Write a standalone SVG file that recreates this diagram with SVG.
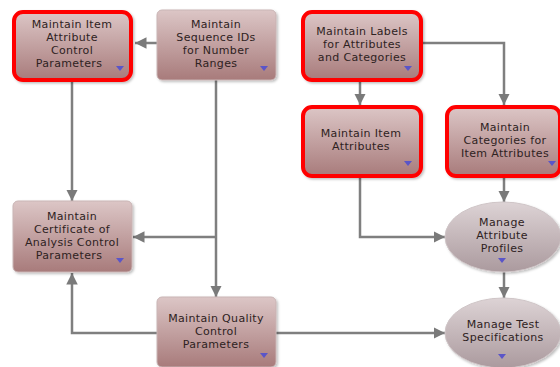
<svg xmlns="http://www.w3.org/2000/svg" width="560" height="367" viewBox="0 0 560 367">
  <defs>
    <linearGradient id="boxFill" x1="0" y1="0" x2="0" y2="1">
      <stop offset="0" stop-color="#dcc6c6"/>
      <stop offset="1" stop-color="#a87b7b"/>
    </linearGradient>
    <linearGradient id="ovalFill" x1="0" y1="0" x2="0" y2="1">
      <stop offset="0" stop-color="#ddd3d5"/>
      <stop offset="1" stop-color="#ab9a9e"/>
    </linearGradient>
    <marker id="arrow" viewBox="0 0 10 10" refX="10" refY="5" markerWidth="4.6" markerHeight="4.8" markerUnits="strokeWidth" orient="auto">
      <path d="M0,0 L10,5 L0,10 Z" fill="#7a7a7a"/>
    </marker>
    <filter id="shadow" x="-10%" y="-10%" width="125%" height="125%">
      <feDropShadow dx="1.5" dy="1.5" stdDeviation="1" flood-color="#000" flood-opacity="0.25"/>
    </filter>
  </defs>
  <style>
    .box { fill: url(#boxFill); stroke: #c9b5b5; stroke-width: 1; filter: url(#shadow); }
    .hl { stroke: #ff0000; stroke-width: 4; }
    .oval { fill: url(#ovalFill); stroke: #cfc5c7; stroke-width: 1; filter: url(#shadow); }
    .lbl { font-family: "DejaVu Sans", Verdana, sans-serif; font-size: 11px; letter-spacing: 0.35px; fill: #2e2222; text-anchor: middle; }
    .tri { fill: #5a55c8; }
    .conn { fill: none; stroke: #7f7f7f; stroke-width: 2.5; }
  </style>

  <g id="connectors">
    <path class="conn" d="M157,43 H135" marker-end="url(#arrow)"/>
    <path class="conn" d="M72,82 V201" marker-end="url(#arrow)"/>
    <path class="conn" d="M216,80 V297" marker-end="url(#arrow)"/>
    <path class="conn" d="M216,237 H133" marker-end="url(#arrow)"/>
    <path class="conn" d="M157,333 H72 V273" marker-end="url(#arrow)"/>
    <path class="conn" d="M276,333 H445" marker-end="url(#arrow)"/>
    <path class="conn" d="M360,82 V105" marker-end="url(#arrow)"/>
    <path class="conn" d="M423,43 H504 V105" marker-end="url(#arrow)"/>
    <path class="conn" d="M360,178 V237 H445" marker-end="url(#arrow)"/>
    <path class="conn" d="M504,178 V202" marker-end="url(#arrow)"/>
    <path class="conn" d="M504,272 V298" marker-end="url(#arrow)"/>
  </g>

  <g id="item-attribute-control">
    <rect class="box hl" x="14" y="12" width="117" height="68" rx="9"/>
    <text class="lbl" y="28"><tspan x="72">Maintain Item</tspan><tspan x="72" dy="13">Attribute</tspan><tspan x="72" dy="13">Control</tspan><tspan x="69" dy="13">Parameters</tspan></text>
    <path class="tri" d="M116,66 h8 l-4,5 z"/>
  </g>

  <g id="sequence-ids">
    <rect class="box" x="157" y="10" width="119" height="70" rx="5"/>
    <text class="lbl" y="28"><tspan x="216">Maintain</tspan><tspan x="216" dy="13">Sequence IDs</tspan><tspan x="216" dy="13">for Number</tspan><tspan x="216" dy="13">Ranges</tspan></text>
    <path class="tri" d="M260,66 h8 l-4,5 z"/>
  </g>

  <g id="labels-attributes-categories">
    <rect class="box hl" x="303" y="12" width="118" height="68" rx="9"/>
    <text class="lbl" y="35"><tspan x="362">Maintain Labels</tspan><tspan x="362" dy="13">for Attributes</tspan><tspan x="362" dy="13">and Categories</tspan></text>
    <path class="tri" d="M404,66 h8 l-4,5 z"/>
  </g>

  <g id="item-attributes">
    <rect class="box hl" x="303" y="107" width="118" height="69" rx="9"/>
    <text class="lbl" y="137"><tspan x="361">Maintain Item</tspan><tspan x="361" dy="13">Attributes</tspan></text>
    <path class="tri" d="M404,161 h8 l-4,5 z"/>
  </g>

  <g id="categories-item-attributes">
    <rect class="box hl" x="447" y="107" width="113" height="69" rx="9"/>
    <text class="lbl" y="131"><tspan x="505">Maintain</tspan><tspan x="505" dy="13">Categories for</tspan><tspan x="505" dy="13">Item Attributes</tspan></text>
    <path class="tri" d="M548,161 h8 l-4,5 z"/>
  </g>

  <g id="certificate-of-analysis">
    <rect class="box" x="13" y="201" width="119" height="71" rx="5"/>
    <text class="lbl" y="220"><tspan x="72">Maintain</tspan><tspan x="72" dy="13">Certificate of</tspan><tspan x="72" dy="13">Analysis Control</tspan><tspan x="69" dy="13">Parameters</tspan></text>
    <path class="tri" d="M116,258 h8 l-4,5 z"/>
  </g>

  <g id="quality-control">
    <rect class="box" x="157" y="297" width="119" height="70" rx="5"/>
    <text class="lbl" y="322"><tspan x="216">Maintain Quality</tspan><tspan x="216" dy="13">Control</tspan><tspan x="216" dy="13">Parameters</tspan></text>
    <path class="tri" d="M260,353 h8 l-4,5 z"/>
  </g>

  <g id="attribute-profiles">
    <ellipse class="oval" cx="503" cy="237" rx="58" ry="35"/>
    <text class="lbl" y="226"><tspan x="502">Manage</tspan><tspan x="502" dy="13">Attribute</tspan><tspan x="502" dy="13">Profiles</tspan></text>
    <path class="tri" d="M498,258 h8 l-4,5 z"/>
  </g>

  <g id="test-specifications">
    <ellipse class="oval" cx="503" cy="333" rx="58" ry="35"/>
    <text class="lbl" y="328"><tspan x="503">Manage Test</tspan><tspan x="503" dy="13">Specifications</tspan></text>
    <path class="tri" d="M498,354 h8 l-4,5 z"/>
  </g>
</svg>
